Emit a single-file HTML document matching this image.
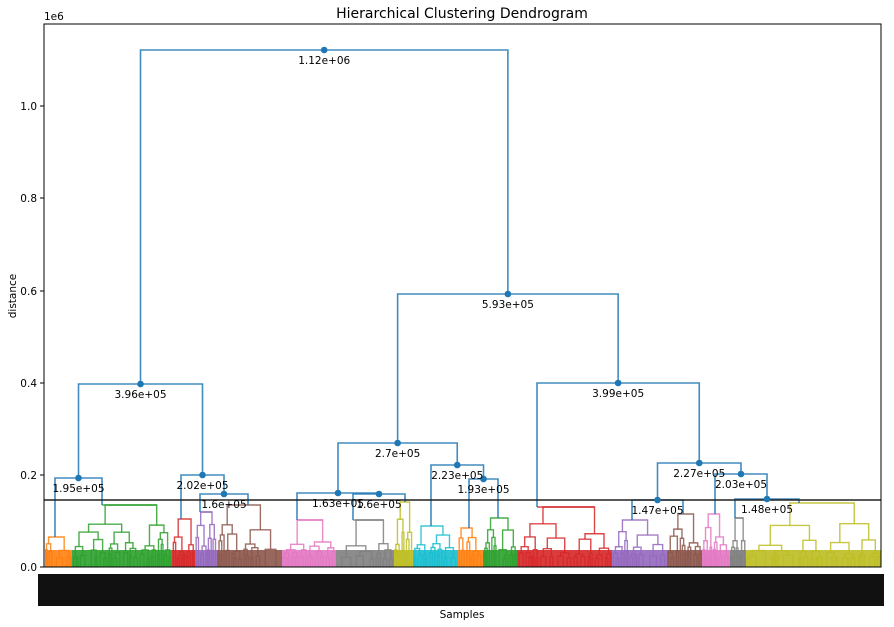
<!DOCTYPE html>
<html><head><meta charset="utf-8"><style>
html,body{margin:0;padding:0;background:#fff;width:894px;height:627px;overflow:hidden}
svg text{font-family:"DejaVu Sans","Liberation Sans",sans-serif}
</style></head><body>
<svg id="s" width="894" height="627" xmlns="http://www.w3.org/2000/svg">
<rect width="894" height="627" fill="#fff"/>
<g id="clusters"></g>
<g id="links" stroke="#1f77b4" stroke-width="1.6" fill="none" stroke-opacity="0.85"></g>
<line x1="44" y1="500" x2="881" y2="500" stroke="#222" stroke-width="1.5"/>
<g id="dots" fill="#1f77b4"></g>
<g id="labels" font-size="10.5" fill="#000" text-anchor="middle"></g>
<rect x="44" y="24" width="837" height="543" fill="none" stroke="#000" stroke-width="1"/>
<g font-size="10.5" text-anchor="end" fill="#000">
<text x="37" y="571">0.0</text><text x="37" y="479">0.2</text><text x="37" y="387">0.4</text>
<text x="37" y="295">0.6</text><text x="37" y="202">0.8</text><text x="37" y="110">1.0</text>
</g>
<g stroke="#000" stroke-width="1">
<line x1="40" y1="567" x2="44" y2="567"/><line x1="40" y1="475" x2="44" y2="475"/><line x1="40" y1="383" x2="44" y2="383"/>
<line x1="40" y1="291" x2="44" y2="291"/><line x1="40" y1="198" x2="44" y2="198"/><line x1="40" y1="106" x2="44" y2="106"/>
</g>
<text x="44" y="20" font-size="10.5">1e6</text>
<text x="462" y="18" font-size="14" text-anchor="middle">Hierarchical Clustering Dendrogram</text>
<text x="462" y="618" font-size="10.5" text-anchor="middle">Samples</text>
<text transform="translate(16,296) rotate(-90)" font-size="10.5" text-anchor="middle">distance</text>
<rect x="38" y="574" width="846" height="32" fill="#111"/>
</svg>
<script>
var NS="http://www.w3.org/2000/svg";
function el(p,t,a){var e=document.createElementNS(NS,t);for(var k in a)e.setAttribute(k,a[k]);p.appendChild(e);return e;}
var seed=7;function rnd(){seed=(seed*16807)%2147483647;return seed/2147483647;}
var B=567;
var cg=document.getElementById('clusters');
function sub(g,x0,x1,y){
  var w=x1-x0;var h=B-y;
  if(w<3||h<8){var c=(x0+x1)/2;el(g,'line',{x1:c,y1:y,x2:c,y2:B});return c;}
  var f=0.3+0.4*rnd();var xm=x0+w*f;
  var y1=B-h*(0.45+0.4*rnd()),y2=B-h*(0.45+0.4*rnd());
  var c1=sub(g,x0,xm,y1),c2=sub(g,xm,x1,y2);
  el(g,'path',{d:'M'+c1+' '+y1+'V'+y+'H'+c2+'V'+y2});
  return (c1+c2)/2;
}
function cluster(x0,x1,top,col,cx){
  var g=el(cg,'g',{stroke:col,'stroke-width':1.4,fill:'none','stroke-opacity':0.85});
  el(cg,'rect',{x:x0,y:550,width:x1-x0,height:17,fill:col,'fill-opacity':0.9});
  var h=B-top;
  var xm=x0+(x1-x0)*(0.3+0.4*rnd());
  var y1=B-h*(0.45+0.35*rnd()),y2=B-h*(0.45+0.35*rnd());
  var c1=sub(g,x0,xm,y1),c2=sub(g,xm,x1,y2);
  var l=Math.min(c1,cx-2),r=Math.max(c2,cx+2);
  el(g,'path',{d:'M'+c1+' '+y1+'V'+top+'H'+c2+'V'+y2});
  if(cx<c1||cx>c2){el(g,'path',{d:'M'+Math.min(cx,c1)+' '+top+'H'+Math.max(cx,c2)});}
  return cx;
}
var C={b:'#1f77b4',o:'#ff7f0e',g:'#2ca02c',r:'#d62728',p:'#9467bd',br:'#8c564b',pk:'#e377c2',gr:'#7f7f7f',ol:'#bcbd22',cy:'#17becf'};
var cl=[[45,72,537,C.o,55],[72,172,505,C.g,102],[172,195,519,C.r,181],[195,217,512,C.p,200],[217,282,505,C.br,248],
[282,336,520,C.pk,297],[336,394,520,C.gr,353],[394,413,502,C.ol,405],[413,458,526,C.cy,431],[458,483,528,C.o,469],[483,517,518,C.g,498],
[517,612,507,C.r,537],[612,667,520,C.p,632],[667,702,514,C.br,683],[702,730,514,C.pk,715],[730,746,518,C.gr,735],[746,881,503,C.ol,799]];
var cen=[];cl.forEach(function(c){cen.push(cluster(c[0],c[1],c[2],c[3],c[4]));});
var L=document.getElementById('links'),D=document.getElementById('dots'),T=document.getElementById('labels');
function link(xa,ya,xb,yb,y,lab){
  el(L,'path',{d:'M'+xa+' '+ya+'V'+y+'H'+xb+'V'+yb});
  var m=(xa+xb)/2;
  if(lab){el(D,'circle',{cx:m,cy:y,r:3.3});var t=el(T,'text',{x:m,y:y+14});t.textContent=lab;}
  return m;
}
var a=link(cen[0],537,cen[1],505,478,'1.95e+05');
var b1=link(cen[3],512,cen[4],505,494,'1.6e+05');
var b=link(cen[2],519,b1,494,475,'2.02e+05');
var A=link(a,478,b,475,384,'3.96e+05');
var g1=link(cen[6],520,cen[7],502,494,'1.6e+05');
var p1=link(cen[5],520,g1,494,493,'1.63e+05');
var q1=link(cen[9],528,cen[10],518,479,'1.93e+05');
var q2=link(cen[8],526,q1,479,465,'2.23e+05');
var M=link(p1,493,q2,465,443,'2.7e+05');
var r1=link(cen[12],520,cen[13],514,500,'1.47e+05');
var r2=link(cen[15],518,cen[16],503,499,'1.48e+05');
var r3=link(cen[14],514,r2,499,474,'2.03e+05');
var r4=link(r1,500,r3,474,463,'2.27e+05');
var R=link(cen[11],507,r4,463,383,'3.99e+05');
var N=link(M,443,R,383,294,'5.93e+05');
link(A,384,N,294,50,'1.12e+06');
</script>
</body></html>
